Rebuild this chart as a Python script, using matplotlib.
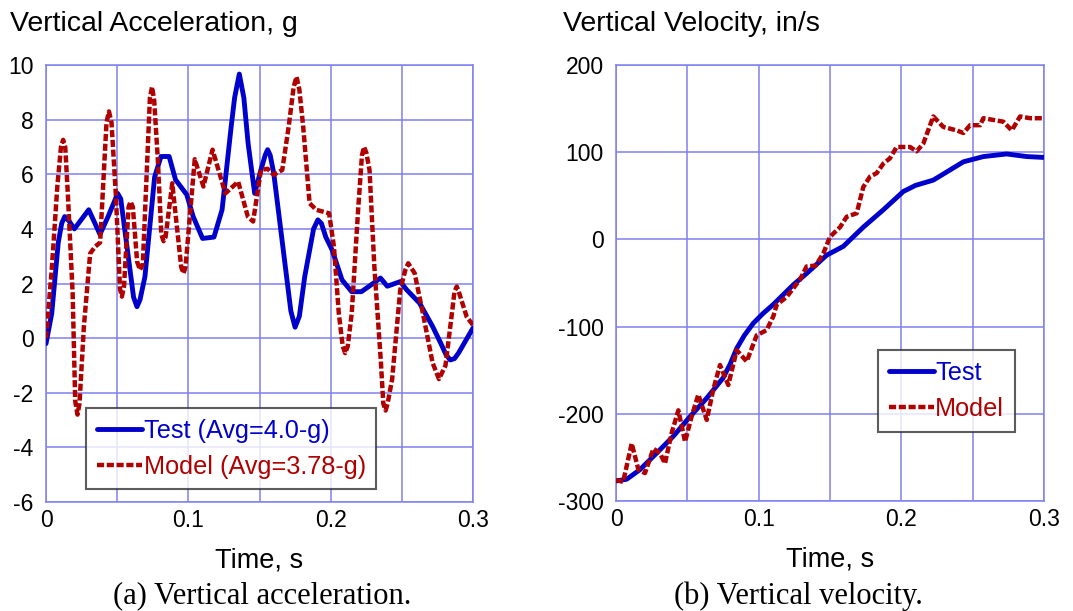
import numpy as np
import matplotlib
matplotlib.use("Agg")
import matplotlib.pyplot as plt
from matplotlib.ticker import MultipleLocator

# Acceleration (g)
acc_test_t = [0.0, 0.004, 0.0086, 0.011, 0.0131, 0.016, 0.0199, 0.030, 0.0379, 0.0436,
              0.048, 0.0503, 0.0525, 0.056, 0.0615, 0.0639, 0.066, 0.0695, 0.0763, 0.0808,
              0.0865, 0.091, 0.0989, 0.1034, 0.110, 0.118, 0.1237, 0.130, 0.1325, 0.1358,
              0.139, 0.142, 0.1466, 0.151, 0.154, 0.1557, 0.1575, 0.160, 0.167, 0.172,
              0.175, 0.178, 0.1818, 0.188, 0.191, 0.1935, 0.1966, 0.201, 0.208, 0.2148,
              0.2216, 0.2284, 0.235, 0.2398, 0.2489, 0.2534, 0.2625, 0.2716, 0.2773, 0.281,
              0.284, 0.287, 0.2898, 0.3]
acc_test_g = [-0.2, 0.9, 3.5, 4.2, 4.45, 4.3, 4.0, 4.7, 3.8, 4.45,
              5.0, 5.3, 5.1, 3.7, 1.5, 1.15, 1.4, 2.25, 5.9, 6.65,
              6.65, 5.8, 5.25, 4.45, 3.65, 3.7, 4.7, 7.7, 8.8, 9.67,
              8.8, 7.13, 5.3, 6.16, 6.7, 6.9, 6.7, 6.04, 3.1, 1.0,
              0.4, 0.8, 2.26, 4.0, 4.33, 4.2, 3.7, 3.23, 2.13, 1.7,
              1.7, 1.95, 2.2, 1.9, 2.07, 1.77, 1.28, 0.43, -0.18, -0.6,
              -0.8, -0.75, -0.55, 0.37]

acc_model_t = [0.0, 0.004, 0.008, 0.0105, 0.012, 0.0135, 0.0153, 0.0187, 0.0205, 0.0221,
               0.0235, 0.0266, 0.031, 0.0345, 0.038, 0.0425, 0.0442, 0.046, 0.049, 0.052,
               0.0533, 0.0548, 0.058, 0.0594, 0.061, 0.064, 0.066, 0.068, 0.073, 0.0745,
               0.076, 0.0786, 0.081, 0.0826, 0.084, 0.0887, 0.095, 0.0966, 0.098, 0.1045,
               0.1106, 0.117, 0.126, 0.135, 0.1418, 0.1455, 0.151, 0.1557, 0.160, 0.166,
               0.1705, 0.174, 0.176, 0.178, 0.1807, 0.1852, 0.1898, 0.1989, 0.2023, 0.2057,
               0.2085, 0.2102, 0.212, 0.2148, 0.2193, 0.222, 0.2234, 0.225, 0.2273, 0.2307,
               0.2352, 0.237, 0.2386, 0.240, 0.2432, 0.2489, 0.2525, 0.2545, 0.259, 0.2648,
               0.2716, 0.2761, 0.2807, 0.2852, 0.287, 0.2886, 0.290, 0.2956, 0.3]
acc_model_g = [0.0, 2.5, 5.6, 7.0, 7.26, 7.0, 5.3, 1.65, -2.3, -2.8,
               -2.4, 0.43, 3.1, 3.35, 3.5, 7.9, 8.3, 7.9, 5.3, 1.8,
               1.52, 1.9, 4.8, 5.0, 4.8, 2.8, 2.5, 2.7, 8.8, 9.2,
               8.7, 6.5, 3.8, 3.55, 3.7, 5.67, 2.6, 2.37, 2.6, 6.55,
               5.55, 6.9, 5.3, 5.73, 4.45, 4.27, 6.16, 6.2, 5.98, 6.16,
               7.74, 9.2, 9.57, 9.1, 7.74, 4.94, 4.7, 4.57, 3.35, 0.91,
               -0.3, -0.55, -0.3, 0.91, 4.7, 6.7, 7.0, 6.8, 6.16, 2.62,
               -0.8, -2.4, -2.65, -2.4, -1.5, 1.77, 2.5, 2.74, 2.38, 0.91,
               -0.9, -1.5, -1.0, 0.91, 1.7, 1.89, 1.7, 0.78, 0.48]

# Velocity (in/s)
vel_test_t = [0.0, 0.0075, 0.0168, 0.0285, 0.040, 0.052, 0.0636, 0.075, 0.080, 0.0846,
              0.090, 0.0963, 0.103, 0.110, 0.1243, 0.1336, 0.1477, 0.1593, 0.1733, 0.1874,
              0.2014, 0.210, 0.2224, 0.2435, 0.2575, 0.2738, 0.2879, 0.3]
vel_test_v = [-277, -275, -264, -245, -226, -203, -182, -159, -143, -125,
              -110, -96, -85, -75, -52, -39, -18, -8, 14, 34,
              55, 62, 68, 89, 95, 98, 95, 94]

vel_model_t = [0.0, 0.005, 0.011, 0.0157, 0.0203, 0.0262, 0.0308, 0.0343, 0.039, 0.0437,
               0.0484, 0.053, 0.0577, 0.0636, 0.0682, 0.0729, 0.0787, 0.0846, 0.0916, 0.0986,
               0.1056, 0.1103, 0.1126, 0.1196, 0.129, 0.1336, 0.140, 0.1453, 0.150, 0.157,
               0.1617, 0.1687, 0.1733, 0.178, 0.1827, 0.1874, 0.192, 0.1967, 0.2061, 0.2107,
               0.2154, 0.2224, 0.2294, 0.2388, 0.2435, 0.2482, 0.2552, 0.2575, 0.2645, 0.2715,
               0.2774, 0.2832, 0.2902, 0.3]
vel_model_v = [-276, -278, -234, -264, -268, -240, -245, -257, -222, -196,
               -232, -203, -178, -207, -172, -144, -167, -127, -140, -110,
               -104, -88, -75, -66, -46, -31, -30, -16, 3, 14,
               26, 30, 60, 72, 76, 87, 93, 106, 106, 101,
               110, 141, 129, 125, 122, 131, 131, 139, 137, 135,
               125, 141, 139, 139]

blue = "#0000CC"
red = "#B00000"
grid_col = "#8080F0"

plt.rcParams["font.family"] = ["Liberation Sans", "DejaVu Sans"]
plt.rcParams["axes.unicode_minus"] = False

fig = plt.figure(figsize=(10.73, 6.11), dpi=100)
ax1 = fig.add_axes([0.0429, 0.1784, 0.3979, 0.7152])
ax2 = fig.add_axes([0.5741, 0.1800, 0.3989, 0.7136])


def style_axes(ax, ylo, yhi, ystep):
    ax.set_xlim(0, 0.3)
    ax.set_ylim(ylo, yhi)
    ax.xaxis.set_major_locator(MultipleLocator(0.1))
    ax.xaxis.set_minor_locator(MultipleLocator(0.05))
    ax.yaxis.set_major_locator(MultipleLocator(ystep))
    ax.set_xticks([0, 0.1, 0.2, 0.3])
    ax.set_xticklabels(["0", "0.1", "0.2", "0.3"])
    ax.tick_params(axis="both", which="both", length=0, labelsize=16.5)
    ax.tick_params(axis="y", pad=9)
    ax.tick_params(axis="x", pad=5)
    ax.grid(True, which="both", color=grid_col, linewidth=1.1)
    ax.set_axisbelow(True)
    for s in ax.spines.values():
        s.set_color(grid_col)
        s.set_linewidth(1.1)
    ax.set_xlabel("Time, s", fontsize=19.5, labelpad=11)


def add_legend(ax, anchor):
    leg = ax.legend(loc="upper left", bbox_to_anchor=anchor, fontsize=18.2,
                    frameon=True, fancybox=False, handlelength=1.8, handletextpad=0.05,
                    labelspacing=0.48, borderpad=0.42, borderaxespad=0)
    leg.get_frame().set_edgecolor("#333333")
    leg.get_frame().set_linewidth(1.5)
    for txt, c in zip(leg.get_texts(), [blue, red]):
        txt.set_color(c)
    return leg


# (a) acceleration
ax1.plot(acc_test_t, acc_test_g, color=blue, lw=3.5, label="Test (Avg=4.0-g)",
         solid_joinstyle="round", solid_capstyle="round", zorder=3)
ax1.plot(acc_model_t, acc_model_g, color=red, lw=3.2, dashes=(1.6, 0.6),
         dash_joinstyle="round", label="Model (Avg=3.78-g)", zorder=4)
style_axes(ax1, -6, 10, 2)
add_legend(ax1, (0.094, 0.215))

# (b) velocity
ax2.plot(vel_test_t, vel_test_v, color=blue, lw=3.5, label="Test",
         solid_joinstyle="round", solid_capstyle="round", zorder=3)
ax2.plot(vel_model_t, vel_model_v, color=red, lw=3.2, dashes=(1.6, 0.6),
         dash_joinstyle="round", label="Model", zorder=4)
style_axes(ax2, -300, 200, 100)
add_legend(ax2, (0.612, 0.346))

# panel titles and captions
fig.text(10 / 1073, 1 - 24 / 611, "Vertical Acceleration, g", fontsize=20.5, va="center", ha="left")
fig.text(563 / 1073, 1 - 24 / 611, "Vertical Velocity, in/s", fontsize=20.5, va="center", ha="left")
fig.text(262 / 1073, 1 - 596 / 611, "(a) Vertical acceleration.", fontsize=22,
         family=["Liberation Serif", "DejaVu Serif"], ha="center", va="center")
fig.text(798 / 1073, 1 - 596 / 611, "(b) Vertical velocity.", fontsize=22,
         family=["Liberation Serif", "DejaVu Serif"], ha="center", va="center")

fig.savefig("out.png", dpi=100)
